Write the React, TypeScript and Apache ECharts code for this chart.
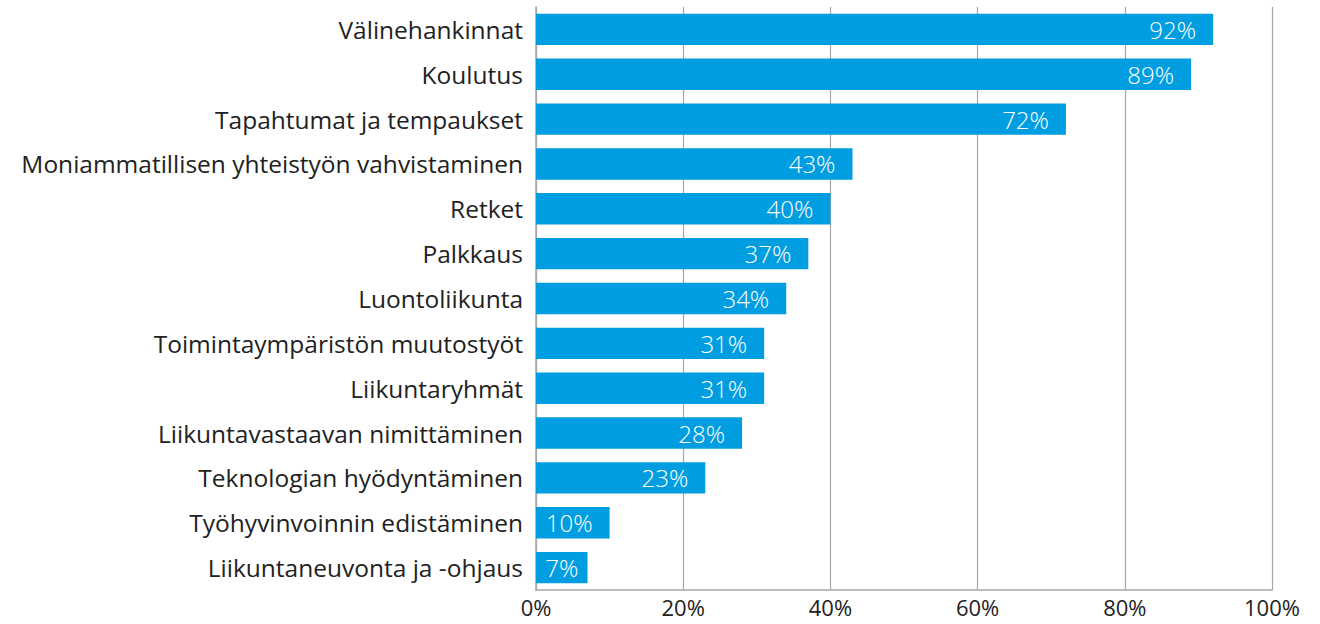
import React, { useEffect, useRef } from "react";
import * as echarts from "echarts";

const categories = [
  "Välinehankinnat",
  "Koulutus",
  "Tapahtumat ja tempaukset",
  "Moniammatillisen yhteistyön vahvistaminen",
  "Retket",
  "Palkkaus",
  "Luontoliikunta",
  "Toimintaympäristön muutostyöt",
  "Liikuntaryhmät",
  "Liikuntavastaavan nimittäminen",
  "Teknologian hyödyntäminen",
  "Työhyvinvoinnin edistäminen",
  "Liikuntaneuvonta ja -ohjaus",
];
const values = [92, 89, 72, 43, 40, 37, 34, 31, 31, 28, 23, 10, 7];
const xTicks = [0, 20, 40, 60, 80, 100];

const FONT = "'Open Sans', sans-serif";

export default function App() {
  const ref = useRef<HTMLDivElement>(null);
  useEffect(() => {
    document.body.style.margin = "0";
    const chart = echarts.init(ref.current!, null, { renderer: "svg" });
    chart.setOption({
      animation: false,
      grid: { left: 536, right: 48, top: 7, bottom: 34, containLabel: false },
      xAxis: {
        type: "value",
        min: 0,
        max: 100,
        interval: 20,
        axisLine: { show: true, lineStyle: { color: "#a6a6a6", width: 1.5 } },
        axisTick: { show: false },
        splitLine: { show: true, lineStyle: { color: "#a6a6a6", width: 1.2 } },
        axisLabel: {
          formatter: (v: number) => (xTicks.includes(v) ? v + "%" : ""),
          color: "#222",
          fontSize: 22,
          lineHeight: 22,
          fontFamily: FONT,
          margin: 6,
        },
      },
      yAxis: {
        type: "category",
        inverse: true,
        data: categories,
        axisLine: { show: true, lineStyle: { color: "#a6a6a6", width: 1.5 } },
        axisTick: { show: false },
        axisLabel: {
          color: "#222",
          fontSize: 24.5,
          fontFamily: FONT,
          margin: 13,
        },
      },
      series: [
        {
          type: "bar",
          data: values.map((v) =>
            v < 9 ? { value: v, label: { position: "inside" } } : v
          ),
          barCategoryGap: "30%",
          itemStyle: { color: "#009EE0" },
          label: {
            show: true,
            position: "insideRight",
            distance: 17,
            formatter: "{c}%",
            color: "#fff",
            fontSize: 24,
            fontFamily: FONT,
            fontWeight: 300,
          },
        },
      ],
    });
    return () => chart.dispose();
  }, []);
  return <div ref={ref} style={{ width: 1320, height: 624 }} />;
}
